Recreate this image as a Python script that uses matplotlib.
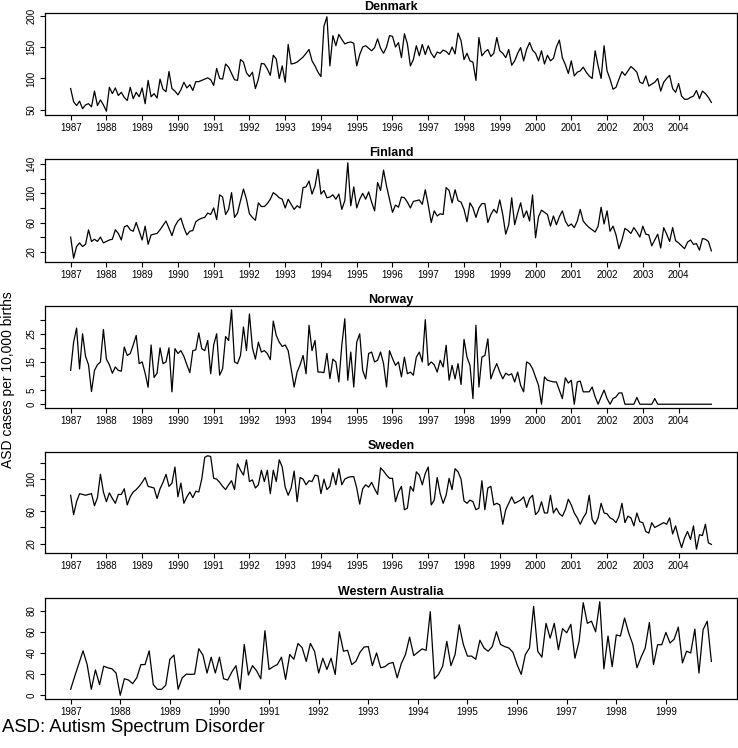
import numpy as np
import matplotlib
matplotlib.use("Agg")
import matplotlib.pyplot as plt

plt.rcParams['font.family'] = ['Liberation Sans', 'DejaVu Sans']

# monthly ASD cases per 10,000 births, Jan 1987 onwards
denmark = [
    84, 63, 57, 64, 52, 58, 60, 55, 80, 57, 66, 58,
    48, 86, 76, 85, 73, 78, 70, 65, 86, 68, 78, 71,
    85, 60, 97, 71, 76, 69, 99, 83, 79, 111, 84, 80,
    74, 82, 94, 85, 90, 81, 95, 95, 97, 99, 101, 98,
    89, 116, 100, 99, 123, 118, 108, 98, 97, 130, 126, 109,
    103, 110, 84, 99, 124, 123, 115, 105, 137, 131, 100, 120,
    94, 154, 123, 124, 126, 130, 134, 140, 146, 128, 120, 110,
    103, 183, 198, 120, 168, 152, 170, 162, 155, 157, 158, 156,
    120, 138, 150, 152, 148, 144, 149, 163, 148, 140, 150, 168,
    167, 150, 157, 133, 171, 155, 120, 130, 152, 136, 154, 138,
    152, 140, 133, 142, 140, 145, 143, 138, 150, 139, 172, 160,
    130, 140, 128, 126, 97, 165, 136, 142, 146, 135, 140, 165,
    144, 140, 133, 146, 121, 128, 140, 149, 128, 146, 157, 145,
    140, 128, 144, 123, 137, 128, 132, 150, 161, 133, 122, 108,
    128, 104, 110, 112, 118, 110, 104, 100, 144, 120, 100, 152,
    112, 99, 83, 86, 99, 111, 105, 112, 119, 115, 110, 94,
    92, 104, 88, 91, 94, 100, 80, 94, 100, 105, 84, 78,
    92, 72, 67, 67, 70, 72, 81, 68, 80, 76, 70, 62,
]

finland = [
    40, 11, 27, 32, 27, 30, 50, 34, 37, 34, 40, 32,
    34, 36, 37, 50, 45, 36, 54, 56, 50, 48, 60, 48,
    36, 55, 30, 43, 44, 45, 50, 56, 62, 52, 42, 55,
    62, 66, 53, 43, 48, 49, 61, 64, 66, 67, 73, 71,
    80, 64, 98, 95, 71, 78, 101, 67, 73, 90, 106, 92,
    72, 67, 63, 87, 82, 82, 86, 92, 101, 98, 94, 92,
    80, 92, 85, 78, 83, 80, 108, 109, 117, 99, 110, 133,
    99, 104, 94, 95, 98, 92, 99, 78, 90, 142, 83, 109,
    80, 92, 100, 92, 102, 88, 76, 115, 104, 132, 110, 92,
    74, 84, 81, 95, 94, 88, 80, 89, 90, 91, 85, 105,
    84, 60, 76, 69, 72, 71, 108, 104, 87, 105, 90, 88,
    78, 61, 87, 80, 67, 80, 86, 86, 60, 71, 78, 73,
    91, 71, 44, 57, 94, 57, 73, 87, 67, 76, 62, 98,
    39, 68, 77, 74, 71, 55, 69, 57, 68, 76, 62, 55,
    58, 53, 62, 78, 62, 57, 53, 50, 47, 55, 81, 58,
    76, 48, 55, 43, 24, 36, 52, 49, 45, 53, 47, 40,
    55, 44, 43, 28, 36, 44, 25, 53, 44, 34, 53, 35,
    32, 28, 24, 33, 36, 30, 31, 22, 38, 37, 34, 21,
]

norway = [
    12, 22, 27, 12.5, 25, 17, 14, 4.5, 12, 14, 15, 26.5,
    16, 14, 11, 13.2, 12, 11.7, 20.3, 17.3, 18, 21, 24.4, 14.4,
    15, 11, 6, 21, 9.5, 11, 20, 14.4, 15, 20, 4.4, 19.7,
    18, 19, 17, 14, 11.2, 19, 19.3, 25.3, 19.7, 19, 22.6, 10.8,
    21, 25, 10.3, 12.6, 24, 22.6, 33.5, 15, 14.4, 17.3, 27.4, 19,
    32, 20, 16, 22, 18.5, 19, 18, 15.8, 29.5, 24.4, 22, 20.5,
    21, 19, 12.6, 6.1, 11.4, 14, 17.3, 10.8, 28, 19, 22.6, 11.4,
    11.4, 11.2, 18, 9.1, 16, 15, 7.9, 21, 30.3, 8.5, 18.5, 6.1,
    22, 25, 12, 9, 18, 18.5, 15, 15.6, 18.5, 14.4, 6.1, 19,
    16.2, 13.8, 15, 9.7, 16.7, 10.8, 11.4, 10.3, 16.7, 18.5, 15, 30,
    13.8, 15, 14, 11.4, 15.6, 13.2, 20.9, 8.5, 13.8, 9, 14.4, 7,
    23, 16.7, 13.8, 2, 28, 6.1, 16.7, 17.3, 23.2, 9, 12, 14.4,
    11.4, 9, 11, 10.3, 10.8, 7.9, 11.4, 6.7, 4.4, 15, 14.4, 12.6,
    9.7, 6.7, 0, 9.7, 8.5, 8.2, 7.9, 7.9, 5, 2, 9.4, 7.5,
    8.5, 0, 7.9, 8.2, 4.4, 4.4, 4.4, 6.1, 2.6, 0, 2.6, 5,
    2, 0, 2, 2.6, 4, 4, 0, 0, 0, 0, 2.4, 0,
    0, 0, 0, 0, 2, 0, 0, 0, 0, 0, 0, 0,
    0, 0, 0, 0, 0, 0, 0, 0, 0, 0, 0, 0,
]

sweden = [
    80, 56, 72, 82, 81, 80, 81, 82, 67, 77, 106, 84,
    72, 83, 76, 70, 81, 81, 88, 68, 78, 84, 87, 91,
    96, 102, 91, 90, 89, 76, 88, 96, 106, 91, 95, 115,
    78, 95, 70, 78, 84, 77, 85, 84, 100, 127, 129, 128,
    101, 100, 96, 91, 87, 93, 98, 87, 119, 111, 105, 124,
    97, 99, 89, 93, 111, 97, 111, 82, 111, 97, 124, 115,
    90, 80, 89, 110, 72, 102, 100, 93, 98, 97, 105, 104,
    82, 100, 87, 91, 108, 93, 113, 93, 100, 102, 103, 103,
    89, 69, 88, 93, 90, 96, 88, 81, 114, 110, 105, 101,
    101, 72, 84, 91, 62, 64, 91, 85, 109, 105, 93, 107,
    115, 68, 74, 102, 82, 70, 80, 101, 87, 113, 109, 100,
    73, 70, 74, 72, 62, 64, 98, 62, 89, 91, 68, 70,
    68, 44, 62, 70, 78, 70, 72, 74, 78, 65, 76, 80,
    56, 60, 72, 58, 58, 80, 58, 64, 57, 54, 62, 75,
    68, 58, 52, 44, 52, 58, 80, 50, 44, 52, 70, 58,
    57, 52, 50, 46, 54, 70, 46, 54, 52, 42, 58, 47,
    46, 35, 33, 46, 40, 42, 44, 46, 44, 52, 32, 42,
    27, 15, 27, 35, 25, 42, 13, 31, 30, 44, 21, 19,
]

western_australia = [
    5.6, 18, 30, 42, 29, 5.6, 24, 10, 27.5, 26, 25, 21,
    0, 15.6, 14.4, 11, 16.5, 29, 29, 42, 10, 5.6, 5.6, 9.4,
    34, 38, 5.6, 16.5, 20, 19.7, 20, 44, 38, 21, 36, 21,
    36, 15.6, 14.4, 22, 28, 5.6, 48, 19, 28, 23, 15.6, 61,
    24.4, 27, 29, 36, 15, 38.5, 34, 49, 45, 32, 49, 41.6,
    21, 35, 24.4, 35, 19.7, 60, 41.6, 42.5, 29, 32, 40.6, 45.6,
    46, 28, 40, 26, 27, 30, 31, 16.5, 30, 38.5, 55, 37.5,
    40.6, 43.8, 42.5, 79, 15.6, 19.7, 27.5, 51, 28, 38.5, 66.6, 48,
    37, 37, 34, 52, 44.7, 41.6, 46, 60, 48, 46, 44.7, 40.6,
    29, 19.7, 38.5, 44.7, 84, 41.6, 36, 68, 54, 68, 43, 63,
    59, 67, 35, 51, 87.5, 68, 70, 60, 88.4, 25, 56, 27,
    57, 56, 73, 59, 48, 26, 36, 44.7, 68.8, 29, 47.8, 47.8,
    59.4, 49.4, 53, 64.4, 30.6, 41.6, 40, 62.5, 21, 62, 70, 32,
]

titles = ['Denmark', 'Finland', 'Norway', 'Sweden', 'Western Australia']
series = [denmark, finland, norway, sweden, western_australia]
yticks = [
    [50, 100, 150, 200],
    [20, 40, 60, 80, 100, 120, 140],
    [0, 5, 10, 15, 20, 25, 30],
    [20, 40, 60, 80, 100, 120],
    [0, 20, 40, 60, 80],
]
ylabels_shown = [
    [50, 100, 150, 200],
    [20, 60, 100, 140],
    [0, 5, 15, 25],
    [20, 60, 100],
    [0, 20, 40, 60, 80],
]

W, H = 738, 748
fig = plt.figure(figsize=(W / 100, H / 100), dpi=100)

# (top, bottom) of each panel in pixels
boxes = [(13, 115), (159, 262), (306, 408), (452, 553), (598, 699)]
left, right = 45, 737

for (top, bot), name, vals, yt, yl in zip(boxes, titles, series, yticks, ylabels_shown):
    ax = fig.add_axes([left / W, 1 - bot / H, (right - left) / W, (bot - top) / H])
    vals = np.array(vals, dtype=float)
    t = 1987 + np.arange(len(vals)) / 12
    ax.plot(t, vals, color='black', lw=0.9)
    ax.margins(x=0.04, y=0.04)
    last_year = int(t[-1])
    ax.set_xticks(range(1987, last_year + 1))
    ax.set_xticklabels([str(y) for y in range(1987, last_year + 1)])
    ax.set_yticks(yt)
    ax.set_yticklabels([str(v) if v in yl else '' for v in yt],
                       rotation=90, va='center')
    ax.tick_params(axis='both', direction='out', length=3.5, width=0.8,
                   labelsize=7, pad=2.5, colors='black')
    for s in ax.spines.values():
        s.set_linewidth(0.9)
    ax.set_title(name, fontsize=9, fontweight='bold', pad=2)

fig.text(8 / W, 368 / H, 'ASD cases per 10,000 births', rotation=90,
         ha='center', va='center', fontsize=10)
fig.text(2 / W, 1 - 728 / H, 'ASD: Autism Spectrum Disorder',
         ha='left', va='center', fontsize=13.3)

fig.savefig('out.png', dpi=100)
